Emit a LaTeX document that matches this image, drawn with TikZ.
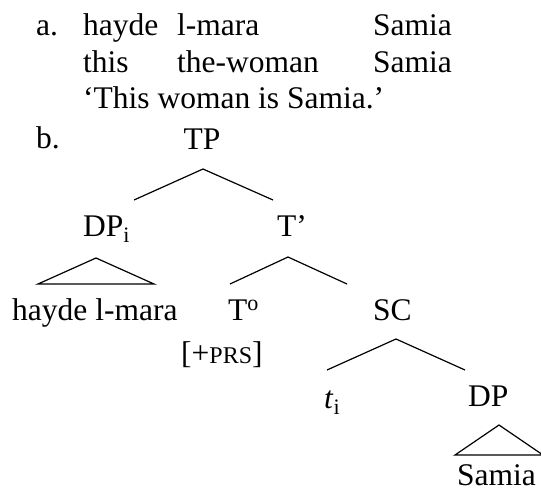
\documentclass[tikz,border=0pt]{standalone}
\usepackage{fontspec}
\setmainfont{Liberation Serif}
\usetikzlibrary{calc}

\begin{document}
\begin{tikzpicture}[x=1pt,y=-1pt,
  every node/.style={inner sep=0pt, anchor=base west, font=\fontsize{31.5}{36}\selectfont},
  branch/.style={line width=1.2pt}]
\useasboundingbox (0,0) rectangle (541,491);
\clip (0,0) rectangle (541,491);
% (a) gloss
\node (a) at (36,35){a.};
\node (hayde) at (83,35){hayde};
\node (lmara) at (177,35){l-mara};
\node (samia) at (373,35){Samia};
\node (this) at (83,72){this};
\node (thewoman) at (177,72){the-woman};
\node (samiagl) at (373,72){Samia};
\node (transl) at (83,108){‘This woman is Samia.’};
% (b) tree
\node (b) at (36,148){b.};
\node[anchor=base] (TP) at (202,149){TP};
\node (DPi) at (83,236){DP\textsubscript{i}};
\node (Tbar) at (277,236){T’};
\node (haydelmara) at (12,320){hayde l-mara};
\node (T0) at (228,320){T\textsuperscript{o}};
\node (SC) at (373,320){SC};
\node (PRS) at (181,363){[+{\fontsize{24}{24}\selectfont PRS}]};
\node (ti) at (324,408){\textit{t}\textsubscript{i}};
\node (DP) at (468,406){DP};
\node (samiatr) at (457,485){Samia};
% branches
\coordinate (TP-top) at (203,169);
\coordinate (TP-l) at (134,200);
\coordinate (TP-r) at (273,200);
\coordinate (DPi-top) at (96,258);
\coordinate (DPi-l) at (38,284);
\coordinate (DPi-r) at (154,284);
\coordinate (Tbar-top) at (288,257);
\coordinate (Tbar-l) at (230,284);
\coordinate (Tbar-r) at (347,284);
\coordinate (SC-top) at (396,339);
\coordinate (SC-l) at (327,370);
\coordinate (SC-r) at (465,370);
\coordinate (DP-top) at (499,425);
\coordinate (DP-l) at (455,455);
\coordinate (DP-r) at (543,455);
\draw[branch] (TP-l) -- (TP-top) -- (TP-r);
\draw[branch] (DPi-top) -- (DPi-l) -- (DPi-r) -- cycle;
\draw[branch] (Tbar-l) -- (Tbar-top) -- (Tbar-r);
\draw[branch] (SC-l) -- (SC-top) -- (SC-r);
\draw[branch] (DP-top) -- (DP-l) -- (DP-r) -- cycle;
\end{tikzpicture}
\end{document}
